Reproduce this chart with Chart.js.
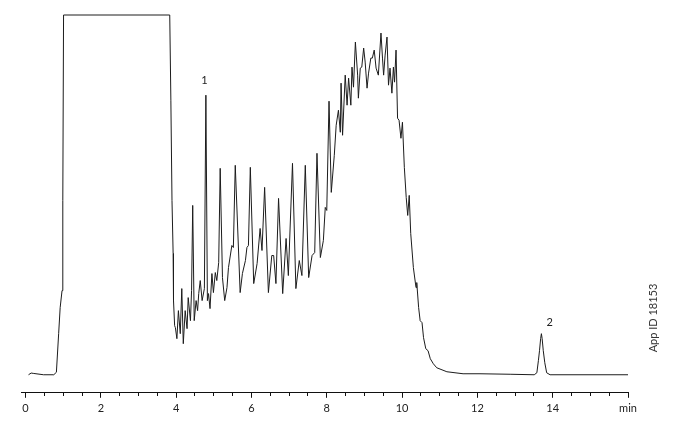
<!DOCTYPE html>
<html>
<head>
<meta charset="utf-8">
<script src="https://cdn.jsdelivr.net/npm/chart.js@4.4.1/dist/chart.umd.min.js"></script>
<style>
  body { margin: 0; background: #fff; }
  canvas { display: block; }
</style>
</head>
<body>
<canvas id="chromatogram" width="677" height="428"></canvas>
<script>
// retention time (min) and detector signal
var timeMin = [
  0.08, 0.15, 0.22, 0.48, 0.75, 0.82, 0.88, 0.92, 0.97, 0.99,
  1.01, 3.83, 3.86, 3.89, 3.92, 3.93, 3.96, 3.98, 4.02, 4.06,
  4.11, 4.15, 4.19, 4.24, 4.29, 4.32, 4.38, 4.41, 4.44, 4.48,
  4.53, 4.57, 4.60, 4.64, 4.69, 4.75, 4.79, 4.83, 4.86, 4.90,
  4.95, 4.99, 5.04, 5.08, 5.13, 5.17, 5.23, 5.29, 5.35, 5.39,
  5.48, 5.52, 5.57, 5.70, 5.76, 5.84, 5.88, 5.92, 5.97, 6.06,
  6.15, 6.23, 6.28, 6.35, 6.45, 6.54, 6.59, 6.65, 6.72, 6.83,
  6.92, 6.98, 7.09, 7.18, 7.27, 7.34, 7.43, 7.52, 7.61, 7.68,
  7.74, 7.83, 7.91, 7.96, 8.00, 8.06, 8.12, 8.20, 8.25, 8.31,
  8.36, 8.38, 8.42, 8.49, 8.54, 8.58, 8.64, 8.67, 8.71, 8.76,
  8.82, 8.84, 8.89, 8.93, 8.98, 9.02, 9.07, 9.11, 9.17, 9.21,
  9.26, 9.31, 9.37, 9.44, 9.48, 9.51, 9.55, 9.60, 9.64, 9.68,
  9.73, 9.77, 9.80, 9.84, 9.88, 9.92, 9.97, 10.01, 10.06, 10.11,
  10.15, 10.19, 10.23, 10.30, 10.37, 10.39, 10.44, 10.48, 10.53, 10.57,
  10.63, 10.69, 10.75, 10.83, 10.92, 11.19, 11.62, 12.07, 12.87, 13.51,
  13.58, 13.62, 13.65, 13.68, 13.70, 13.72, 13.75, 13.79, 13.84, 13.93, 16.0
];
var signal = [
  -1, 0.7, 0.3, -1, -1, 1.5, 40, 66, 83, 173,
  358, 358, 273, 173, 120, 73, 48, 46, 35, 63,
  40, 85, 30, 63, 45, 76, 53, 83, 168, 53,
  73, 63, 80, 93, 73, 85, 278, 73, 80, 65,
  100, 81, 101, 93, 111, 205, 96, 73, 86, 106,
  128, 126, 208, 81, 100, 113, 126, 128, 206, 90,
  110, 145, 123, 186, 81, 118, 118, 90, 175, 80,
  135, 98, 210, 85, 113, 98, 208, 96, 118, 121,
  220, 116, 133, 166, 163, 272, 181, 218, 248, 263,
  241, 290, 238, 298, 268, 295, 268, 306, 286, 331,
  298, 275, 305, 306, 325, 311, 285, 300, 315, 315,
  323, 305, 298, 340, 315, 298, 318, 336, 288, 305,
  280, 306, 291, 323, 255, 253, 235, 251, 206, 176,
  158, 178, 140, 106, 86, 91, 66, 53, 51, 36,
  25, 23, 15, 10, 6, 2, 0, 0, -0.5, -1,
  1, 13, 23, 35, 40, 35, 23, 11, 1, -1, -1
];

// peak numbers and where they sit
var peakNames = ['1', '2'];
var peakLabelTime = [4.75, 13.92];
var peakLabelSignal = [293, 51];

// labelled ticks on the time axis
var tickValues = [0, 2, 4, 6, 8, 10, 12, 14, 16];
var tickLabels = ['0', '2', '4', '6', '8', '10', '12', '14', 'min'];

var points = [];
for (var i = 0; i < timeMin.length; i++) {
  points.push({ x: timeMin[i], y: signal[i] });
}

var peakLabelPlugin = {
  id: 'peakLabels',
  afterDatasetsDraw: function(chart) {
    var ctx = chart.ctx;
    var xs = chart.scales.x, ys = chart.scales.y;
    ctx.save();
    ctx.fillStyle = '#222';
    ctx.font = '11px Lato';
    ctx.textAlign = 'center';
    ctx.textBaseline = 'middle';
    for (var i = 0; i < peakNames.length; i++) {
      ctx.fillText(peakNames[i], xs.getPixelForValue(peakLabelTime[i]), ys.getPixelForValue(peakLabelSignal[i]));
    }
    // app id, rotated on the right
    ctx.translate(653, 318);
    ctx.rotate(-Math.PI / 2);
    ctx.fillStyle = '#333';
    ctx.fillText('App ID 18153', 0, 0);
    ctx.restore();
  }
};

new Chart(document.getElementById('chromatogram').getContext('2d'), {
  type: 'line',
  data: {
    datasets: [{
      data: points,
      borderColor: '#1c1c1c',
      borderWidth: 1,
      pointRadius: 0,
      tension: 0,
      fill: false
    }]
  },
  options: {
    responsive: false,
    animation: false,
    events: [],
    layout: { padding: { left: 21, right: 49, top: 10, bottom: 9 } },
    plugins: {
      legend: { display: false },
      tooltip: { enabled: false }
    },
    scales: {
      x: {
        type: 'linear',
        min: -0.12,
        max: 16,
        border: { display: true, color: '#111', width: 1 },
        grid: {
          drawOnChartArea: false,
          drawTicks: true,
          tickLength: 5,
          tickColor: '#111',
          tickBorderDash: function(c) {
            var v = c.tick ? c.tick.value : 0;
            return (v % 2 === 0) ? [] : [3, 20];
          }
        },
        afterBuildTicks: function(axis) {
          var t = [];
          for (var v = 0; v <= 16; v += 0.5) t.push({ value: v });
          axis.ticks = t;
        },
        ticks: {
          autoSkip: false,
          maxRotation: 0,
          padding: 4,
          color: '#222',
          font: { family: 'Lato', size: 11 },
          callback: function(value) {
            var k = tickValues.indexOf(value);
            return k >= 0 ? tickLabels[k] : '';
          }
        }
      },
      y: {
        type: 'linear',
        display: false,
        min: -19,
        max: 363
      }
    }
  },
  plugins: [peakLabelPlugin]
});
</script>
</body>
</html>
